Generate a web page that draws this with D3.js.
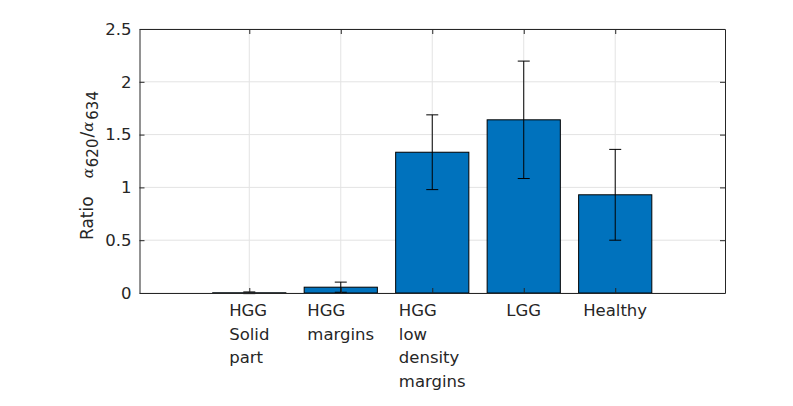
<!DOCTYPE html>
<html><head><meta charset="utf-8">
<script src="https://cdn.jsdelivr.net/npm/d3@7"></script>
<style>
body{margin:0;background:#fff;}
text{font-family:"DejaVu Sans",sans-serif;fill:#262626;}
</style></head>
<body><svg id="c" width="793" height="406"></svg>
<script>
const categories = [["HGG","Solid","part"],["HGG","margins"],["HGG","low","density","margins"],["LGG"],["Healthy"]];
const positions = [1,2,3,4,5];
const values = [0.002, 0.055, 1.333, 1.640, 0.930];
const errors = [0.008, 0.048, 0.354, 0.556, 0.430];
const yTicks = [0, 0.5, 1, 1.5, 2, 2.5];
const yTickLabels = ["0","0.5","1","1.5","2","2.5"];

const svg = d3.select("#c");
const L = 139.5, R = 725, T = 29, B = 293;
const x = d3.scaleLinear().domain([-0.2, 6.2]).range([L, R]);
const y = d3.scaleLinear().domain([0, 2.5]).range([B, T]);
const axisCol = "#262626", gridCol = "#e3e3e3";
const fs = 16.5;

// grid
svg.append("g").selectAll("line").data(yTicks).join("line")
  .attr("x1", L).attr("x2", R).attr("y1", d => y(d)).attr("y2", d => y(d))
  .attr("stroke", gridCol).attr("stroke-width", 1);
svg.append("g").selectAll("line").data(positions).join("line")
  .attr("x1", d => x(d)).attr("x2", d => x(d)).attr("y1", T).attr("y2", B)
  .attr("stroke", gridCol).attr("stroke-width", 1);

// bars
const bw = x(0.8) - x(0);
svg.append("g").selectAll("rect").data(values).join("rect")
  .attr("x", (d, i) => x(positions[i]) - bw / 2)
  .attr("width", bw)
  .attr("y", d => y(d))
  .attr("height", d => y(0) - y(d))
  .attr("fill", "#0072BD").attr("stroke", "#000").attr("stroke-width", 1);

// error bars
const eb = svg.append("g").attr("stroke", "#000").attr("stroke-width", 1);
values.forEach((v, i) => {
  const cx = x(positions[i]), e = errors[i];
  eb.append("line").attr("x1", cx).attr("x2", cx).attr("y1", y(v - e)).attr("y2", y(v + e));
  eb.append("line").attr("x1", cx - 6).attr("x2", cx + 6).attr("y1", y(v + e)).attr("y2", y(v + e));
  eb.append("line").attr("x1", cx - 6).attr("x2", cx + 6).attr("y1", y(v - e)).attr("y2", y(v - e));
});

// axes box
const yAxis = d3.axisLeft(y).tickValues(yTicks).tickFormat((d, i) => yTickLabels[i]).tickSizeInner(-5).tickSizeOuter(0).tickPadding(8);
const gy = svg.append("g").attr("transform", `translate(${L},0)`).call(yAxis);
gy.selectAll("text").style("font-size", fs + "px").attr("fill", axisCol);
gy.selectAll("line,path").attr("stroke", axisCol);
const yAxisR = d3.axisRight(y).tickValues(yTicks).tickFormat("").tickSizeInner(-5).tickSizeOuter(0);
const gyr = svg.append("g").attr("transform", `translate(${R},0)`).call(yAxisR);
gyr.selectAll("line,path").attr("stroke", axisCol);

const xAxis = d3.axisBottom(x).tickValues(positions).tickFormat("").tickSizeInner(-5).tickSizeOuter(0);
const gx = svg.append("g").attr("transform", `translate(0,${B})`).call(xAxis);
gx.selectAll("line,path").attr("stroke", axisCol);
const xAxisT = d3.axisTop(x).tickValues(positions).tickFormat("").tickSizeInner(-5).tickSizeOuter(0);
const gxt = svg.append("g").attr("transform", `translate(0,${T})`).call(xAxisT);
gxt.selectAll("line,path").attr("stroke", axisCol);

// multi-line x labels: block centred, lines left-aligned
categories.forEach((lines, i) => {
  const t = svg.append("text").style("font-size", fs + "px").attr("fill", axisCol);
  lines.forEach((ln, j) => {
    t.append("tspan").attr("x", 0).attr("y", 316 + j * 23.5).text(ln);
  });
  const w = t.node().getBBox().width;
  const x0 = x(positions[i]) - w / 2;
  t.selectAll("tspan").attr("x", x0);
});

// y label (starts near bottom, reads upward)
const yl = svg.append("text")
  .attr("transform", `translate(93,240) rotate(-90)`)
  .attr("text-anchor", "start").style("font-size", "17px").attr("fill", axisCol);
yl.append("tspan").text("Ratio");
yl.append("tspan").text("α").attr("dx", 18).style("font-family", "'DejaVu Serif',serif").style("font-style", "italic").style("font-size", "15px");
yl.append("tspan").text("620").style("font-size", "15px").attr("dy", 5).attr("dx", 1);
yl.append("tspan").text("/").attr("dy", -5).attr("dx", 1);
yl.append("tspan").text("α").style("font-family", "'DejaVu Serif',serif").style("font-style", "italic").style("font-size", "15px");
yl.append("tspan").text("634").style("font-size", "15px").attr("dy", 5).attr("dx", 2);
</script></body></html>
